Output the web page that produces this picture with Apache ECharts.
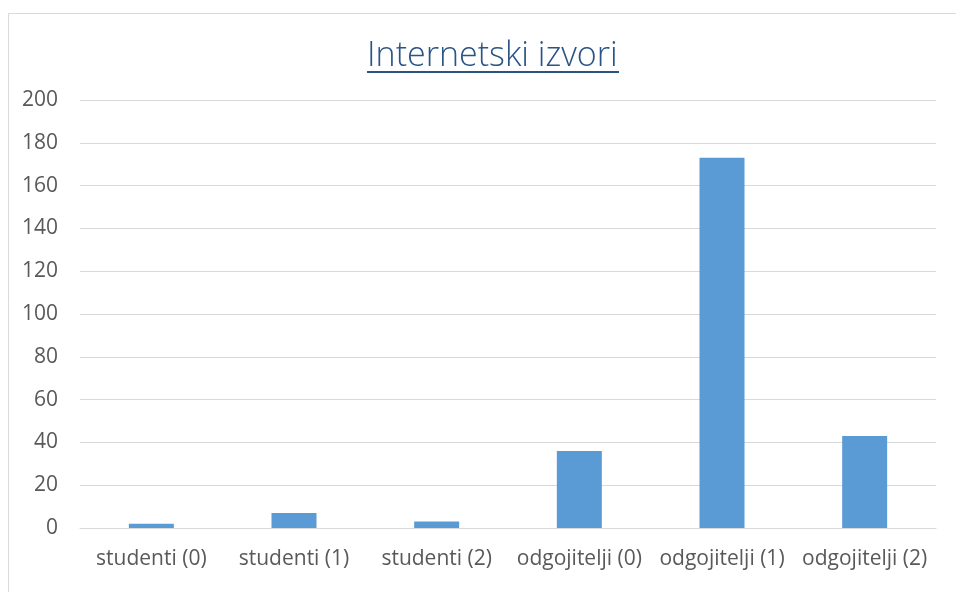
<!DOCTYPE html>
<html>
<head>
<meta charset="utf-8">
<script src="https://cdn.jsdelivr.net/npm/echarts@6/dist/echarts.min.js"></script>
<style>
	html, body { margin: 0; padding: 0; background: #fff; }
	#main { width: 956px; height: 592px; }
</style>
</head>
<body>
<div id="main"></div>
<script>
const categories = ['studenti (0)', 'studenti (1)', 'studenti (2)', 'odgojitelji (0)', 'odgojitelji (1)', 'odgojitelji (2)']
const values = [2, 7, 3, 36, 173, 43]
const titleText = 'Internetski izvori'

const chartDom = document.getElementById('main')
const myChart = echarts.init(chartDom)

const option = {
	animation: false,
	title: {
		text: titleText,
		left: 362,
		top: 34,
		textStyle: {
			fontFamily: 'Open Sans',
			fontSize: 34,
			fontWeight: 300,
			color: '#2a5485'
		}
	},
	// chart frame + title underline
	graphic: [
		{
			type: 'rect',
			shape: { x: 8.5, y: 13.5, width: 1000, height: 700 },
			style: { fill: 'none', stroke: '#d9d9d9', lineWidth: 1 },
			silent: true
		},
		{
			type: 'line',
			shape: { x1: 367, y1: 72, x2: 619, y2: 72 },
			style: { stroke: '#2a5485', lineWidth: 2 },
			silent: true
		}
	],
	grid: {
		left: 80,
		right: 20,
		top: 100,
		bottom: 64
	},
	xAxis: {
		type: 'category',
		data: categories,
		axisLine: { lineStyle: { color: '#d9d9d9', width: 1 } },
		axisTick: { show: false },
		axisLabel: {
			color: '#595959',
			fontFamily: 'Open Sans',
			fontSize: 21,
			margin: 21,
			interval: 0
		}
	},
	yAxis: {
		type: 'value',
		min: 0,
		max: 200,
		interval: 20,
		axisLine: { show: false },
		axisTick: { show: false },
		axisLabel: {
			color: '#595959',
			fontFamily: 'Open Sans',
			fontSize: 21,
			margin: 22
		},
		splitLine: { lineStyle: { color: '#d9d9d9', width: 1 } }
	},
	series: [
		{
			type: 'bar',
			data: values,
			barWidth: 45,
			itemStyle: { color: '#5b9bd5' }
		}
	]
}

option && myChart.setOption(option)
</script>
</body>
</html>
